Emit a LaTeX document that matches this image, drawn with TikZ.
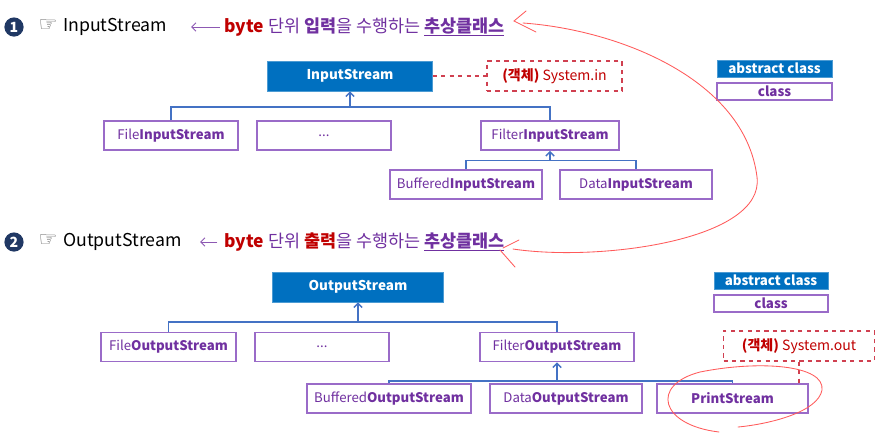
\documentclass[tikz,border=0pt]{standalone}
\usepackage{fontspec}
\setmainfont{Noto Sans CJK KR}
\newfontfamily\symfont{DejaVu Sans}
\usetikzlibrary{arrows.meta}
\definecolor{absblue}{HTML}{0070C0}
\definecolor{clsline}{HTML}{9A6BC8}
\definecolor{clstext}{HTML}{7030A0}
\definecolor{linkblue}{HTML}{4472C4}
\definecolor{objred}{HTML}{C00000}
\definecolor{objline}{HTML}{D04050}
\definecolor{penred}{HTML}{FF5A5A}
\definecolor{badgeblue}{HTML}{203864}

\begin{document}
\begin{tikzpicture}[
        x=0.025cm, y=-0.025cm,
        absbox/.style={fill=absblue, draw=absblue!70!white, text=white,
                       font=\fontsize{9.6}{12}\selectfont\bfseries,
                       minimum height=0.75cm, inner sep=0pt},
        clsbox/.style={draw=clsline, line width=1pt, fill=white, text=clstext,
                       font=\fontsize{9.4}{12}\selectfont,
                       minimum height=0.73cm, inner sep=0pt},
        objbox/.style={draw=objline, dashed, line width=0.9pt, text=objred,
                       font=\fontsize{10}{12}\selectfont,
                       minimum height=0.75cm, inner sep=0pt},
        legabs/.style={absbox, font=\fontsize{9.5}{11}\selectfont\bfseries,
                       minimum height=0.43cm},
        legcls/.style={clsbox, font=\fontsize{9.5}{11}\selectfont\bfseries,
                       minimum height=0.43cm},
        wd/.style={minimum width=#1*0.025cm},
        badge/.style={circle, fill=badgeblue, text=white, inner sep=0pt,
                      minimum size=0.48cm, font=\fontsize{10}{12}\selectfont\bfseries},
        title/.style={anchor=west, inner sep=1pt, font=\fontsize{12.6}{15}\selectfont},
        desc/.style={anchor=west, inner sep=1pt, text=clstext,
                     font=\fontsize{12.4}{14}\selectfont},
        link/.style={draw=linkblue, line width=1pt},
        arr/.style={link, -{Straight Barb[length=3pt, width=6pt]}},
        objlink/.style={draw=objline, dashed, line width=0.9pt},
        hdarr/.style={draw=clstext!80, line width=0.6pt,
                      -{Straight Barb[length=3pt, width=6pt]}},
        pen/.style={draw=penred, line width=0.6pt, line cap=round}
      ]
        \useasboundingbox[fill=white] (0,0) rectangle (891,443);

        \node[badge] (badgeIn) at (14,27) {1};
        \node[title] (titleIn) at (37,27) {{\symfont\color{gray!80!black}\fontsize{15}{15}\selectfont ☞}\hspace{4pt}InputStream};
        \node[desc] (descIn) at (223,27) {{\color{objred}\bfseries byte} 단위 {\bfseries 입력}을 수행하는 \underline{\bfseries 추상클래스}};
        \draw[hdarr] ([xshift=-2]descIn.west) -- ([xshift=16]titleIn.east);

        \node[absbox, wd=165] (inStream) at (350,76) {InputStream};
        \node[objbox, wd=135] (sysIn) at (554.5,76) {{\bfseries (객체)} System.in};
        \node[clsbox, wd=134] (fileIn) at (171,135.5) {File\textbf{InputStream}};
        \node[clsbox, wd=134] (dotsIn) at (324,135.5) {...};
        \node[clsbox, wd=138] (filterIn) at (550,135.5) {Filter\textbf{InputStream}};
        \node[clsbox, wd=152] (bufIn) at (466,184.5) {Buffered\textbf{InputStream}};
        \node[clsbox, wd=152] (dataIn) at (636,184.5) {Data\textbf{InputStream}};
        \node[legabs, wd=115] (legAbsIn) at (774.5,68.5) {abstract class};
        \node[legcls, wd=115] (legClsIn) at (774.5,91.5) {class};

        \coordinate (inHub) at (350,107);
        \coordinate (filterInHub) at (550,160.5);
        \draw[link] (fileIn.north) |- (inHub) -| (filterIn.north);
        \draw[arr] (inHub) -- (inStream.south);
        \draw[link] (bufIn.north) |- (filterInHub) -| (dataIn.north);
        \draw[arr] (filterInHub) -- (filterIn.south);
        \draw[objlink] (inStream.east) -- (sysIn.west);

        \node[badge] (badgeOut) at (14,242) {2};
        \node[title] (titleOut) at (37,242) {{\symfont\color{gray!80!black}\fontsize{15}{15}\selectfont ☞}\hspace{4pt}OutputStream};
        \node[desc] (descOut) at (223,242) {{\color{objred}\bfseries byte} 단위 {\color{objred}\bfseries 출력}을 수행하는 \underline{\bfseries 추상클래스}};
        \draw[hdarr] ([xshift=-4]descOut.west) -- ([xshift=12]titleOut.east);

        \node[absbox, wd=171] (outStream) at (358,287) {OutputStream};
        \node[clsbox, wd=135] (fileOut) at (168.5,347) {File\textbf{OutputStream}};
        \node[clsbox, wd=134] (dotsOut) at (322,347) {...};
        \node[clsbox, wd=154] (filterOut) at (557,347) {Filter\textbf{OutputStream}};
        \node[clsbox, wd=164] (bufOut) at (389,398.5) {Buffered\textbf{OutputStream}};
        \node[clsbox, wd=152] (dataOut) at (566,398.5) {Data\textbf{OutputStream}};
        \node[clsbox, wd=151] (printOut) at (732.5,398.5) {\textbf{PrintStream}};
        \node[objbox, wd=151] (sysOut) at (799,346) {{\bfseries (객체)} System.out};
        \node[legabs, wd=114] (legAbsOut) at (771,280.5) {abstract class};
        \node[legcls, wd=114] (legClsOut) at (771,303.5) {class};

        \coordinate (outHub) at (358,322);
        \coordinate (filterOutHub) at (557,381);
        \draw[link] (fileOut.north) |- (outHub) -| (filterOut.north);
        \draw[arr] (outHub) -- (outStream.south);
        \draw[link] (bufOut.north) |- (filterOutHub) -| (printOut.north);
        \draw[arr] (filterOutHub) -- (filterOut.south);
        \draw[objlink] (sysOut.south) -- (sysOut.south |- printOut.north);

        \coordinate (penTop) at (514,21);
        \coordinate (penBot) at (503,248);
        \draw[pen] (526,11) -- (penTop) -- (536,32);
        \draw[pen] (523,23) .. controls (620,30) and (745,80) .. (757,177)
                   .. controls (765,240) and (600,262) .. (513,249);
        \draw[pen] (519,240) -- (penBot);
        \draw[pen] (500,250) -- (515,267);
        \draw[pen] (719,432) .. controls (660,425) and (650,385) .. (700,372)
                   .. controls (760,360) and (825,365) .. (822,390)
                   .. controls (818,412) and (770,424) .. (738,427);
      \end{tikzpicture}
\end{document}
